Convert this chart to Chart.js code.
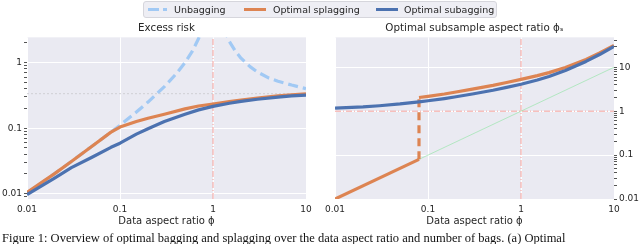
<!DOCTYPE html>
<html>
<head>
<meta charset="utf-8">
<script src="https://cdn.jsdelivr.net/npm/chart.js@4.4.0/dist/chart.umd.min.js"></script>
<style>
    body { margin: 0; width: 640px; height: 244px; overflow: hidden; background: #fff; position: relative;
           font-family: "DejaVu Sans", sans-serif; color: #262626; }
    .panel { position: absolute; top: 0; width: 320px; height: 244px; }
    #legend { position: absolute; left: 143px; top: 1px; width: 352px; height: 15px; border: 1px solid #d6d6dc;
              border-radius: 3px; background: #eeeef4; font-size: 9.5px; line-height: 15px; }
    #legend .item { position: absolute; top: 0; white-space: nowrap; }
    #legend .swatch { position: absolute; top: 6px; height: 3px; width: 20px; }
    #caption { position: absolute; left: 2px; top: 231px; font-family: "Liberation Serif", serif; font-size: 12.5px;
               white-space: nowrap; color: #111; }
</style>
</head>
<body>
<div class="panel" style="left:0"><canvas id="chart_excess-risk" width="320" height="244"></canvas></div>
<div class="panel" style="left:320px"><canvas id="chart_subsample-ratio" width="320" height="244"></canvas></div>
<div id="legend">
    <span class="swatch" style="left:4px;background:linear-gradient(to right,#a1c9f4 0 11px,transparent 11px 15px,#a1c9f4 15px 19px,transparent 19px)"></span>
    <span class="item" style="left:30px">Unbagging</span>
    <span class="swatch" style="left:100px;width:22px;background:#dd8452"></span>
    <span class="item" style="left:129px">Optimal splagging</span>
    <span class="swatch" style="left:232px;width:22px;background:#4c72b0"></span>
    <span class="item" style="left:260px">Optimal subagging</span>
</div>
<div id="caption">Figure 1: Overview of optimal bagging and splagging over the data aspect ratio and number of bags. (a) Optimal</div>
<script>
// data aspect ratio grid (phi) shared by the optimal curves
var phiGrid = [0.01, 0.02, 0.03, 0.05, 0.08, 0.1, 0.15, 0.2, 0.3, 0.5, 0.7, 1, 1.5, 2, 3, 5, 7, 10];

// left panel: excess risk
var unbagPhi = [0.01, 0.02, 0.03, 0.05, 0.08, 0.1, 0.15, 0.2, 0.3, 0.4, 0.5, 0.6, 0.7, 0.8, 1, 1.3, 1.5, 1.75, 2, 2.5, 3, 4, 5, 7, 10];
var unbagRisk = [0.0101, 0.0204, 0.031, 0.053, 0.087, 0.111, 0.176, 0.25, 0.43, 0.67, 1.0, 1.5, 2.33, 4.0, null, 3.4, 2.1, 1.48, 1.17, 0.87, 0.72, 0.58, 0.52, 0.455, 0.40];
var splagRisk = [0.0105, 0.0204, 0.031, 0.053, 0.087, 0.104, 0.126, 0.142, 0.163, 0.197, 0.218, 0.234, 0.255, 0.268, 0.287, 0.31, 0.323, 0.335];
var subagRisk = [0.0097, 0.0175, 0.025, 0.036, 0.051, 0.059, 0.081, 0.098, 0.126, 0.163, 0.19, 0.215, 0.24, 0.256, 0.276, 0.298, 0.31, 0.32];
var nullRisk = 0.336;

// right panel: optimal subsample aspect ratio phi_s
var splagLowPhi = [0.01, 0.08];
var splagLowRatio = [0.01, 0.08];
var splagJumpRatio = [0.08, 2.05];
var splagHighPhi = [0.08, 0.1, 0.15, 0.2, 0.3, 0.5, 0.7, 1, 1.5, 2, 3, 5, 7, 10];
var splagHighRatio = [2.05, 2.18, 2.46, 2.73, 3.17, 3.87, 4.49, 5.3, 6.45, 7.55, 9.9, 15.1, 21.1, 31.5];
var subagRatio = [1.17, 1.25, 1.33, 1.46, 1.63, 1.73, 1.94, 2.13, 2.46, 3.0, 3.48, 4.1, 5.12, 6.19, 8.48, 13.6, 19.5, 29.7];
var identityPhi = [0.01, 10];

var phiRange = [0.01, 10];
var riskRange = [0.0083, 2.43];
var ratioRange = [0.01, 48];

var BLUE = '#4c72b0', ORANGE = '#dd8452', LIGHTBLUE = '#a1c9f4', REF = '#f4a09c', TEXT = '#262626';

var toPoints = function (xs, ys) {
    return xs.map(function (x, i) { return {x: x, y: ys[i]}; });
};

var isDecade = function (v) {
    var l = Math.log10(v);
    return Math.abs(l - Math.round(l)) < 1e-6;
};
var isNiceTick = function (v) {
    var m = v / Math.pow(10, Math.floor(Math.log10(v) + 1e-9));
    return Math.abs(m - Math.round(m)) < 1e-6;
};
var fmt = function (v) {
    return isDecade(v) ? String(parseFloat(v.toPrecision(1))) : '';
};

var plotBackground = {
    id: 'plotBackground',
    beforeDraw: function (chart) {
        var a = chart.chartArea, ctx = chart.ctx;
        ctx.save();
        ctx.fillStyle = '#eaeaf2';
        ctx.fillRect(a.left, a.top, a.right - a.left, a.bottom - a.top);
        ctx.restore();
    }
};

var line = function (data, color, width, dash) {
    return {data: data, borderColor: color, borderWidth: width, borderDash: dash || [],
            pointRadius: 0, fill: false, tension: 0, spanGaps: false,
            borderCapStyle: 'butt', borderJoinStyle: 'round'};
};

var xAxis = function () {
    return {
        type: 'logarithmic', min: phiRange[0], max: phiRange[1],
        border: {display: false},
        grid: {drawTicks: false, lineWidth: 1,
               color: function (c) { return isDecade(c.tick.value) ? '#ffffff' : 'rgba(0,0,0,0)'; }},
        ticks: {autoSkip: false, maxRotation: 0, padding: 5, color: TEXT,
                font: {family: 'DejaVu Sans', size: 9},
                callback: function (v) { return fmt(v); }},
        title: {display: true, text: 'Data aspect ratio \u03d5', color: TEXT, padding: {top: 0, bottom: 2},
                font: {family: 'DejaVu Sans', size: 10}},
        afterFit: function (scale) { scale.height = 30; }
    };
};

var yAxis = function (range, position, width) {
    return {
        type: 'logarithmic', min: range[0], max: range[1], position: position,
        border: {display: false},
        grid: {drawTicks: true, tickLength: 3, lineWidth: 1,
               color: function (c) { return isDecade(c.tick.value) ? '#ffffff' : 'rgba(0,0,0,0)'; },
               tickColor: function (c) { return isNiceTick(c.tick.value) ? '#555555' : 'rgba(0,0,0,0)'; }},
        ticks: {autoSkip: false, padding: 2, color: TEXT,
                font: {family: 'DejaVu Sans', size: 9},
                callback: function (v) { return fmt(v); }},
        afterFit: function (scale) { scale.width = width; }
    };
};

var baseOptions = function (title, padding, yScale) {
    return {
        responsive: false, animation: false, devicePixelRatio: 1,
        layout: {padding: padding},
        plugins: {
            legend: {display: false}, tooltip: {enabled: false},
            title: {display: true, text: title, fullSize: false, color: TEXT,
                    font: {family: 'DejaVu Sans', size: 10.3, weight: 'normal'}, padding: {top: 0, bottom: 3}}
        },
        scales: {x: xAxis(), y: yScale}
    };
};

var showExcessRisk = function () {
    new Chart(document.getElementById('chart_excess-risk'), {
        type: 'line',
        data: {datasets: [
            line(toPoints(phiGrid, subagRisk), BLUE, 3.2),
            line(toPoints(phiGrid, splagRisk), ORANGE, 3.2),
            line(toPoints(unbagPhi, unbagRisk), LIGHTBLUE, 3.2, [10, 5]),
            line(toPoints([1, 1], riskRange), REF, 1, [6, 2, 1, 2]),
            line(toPoints(phiRange, [nullRisk, nullRisk]), '#cfcfd4', 1, [2, 2])
        ]},
        options: baseOptions('Excess risk', {top: 22, right: 14, bottom: 15, left: 0},
                             yAxis(riskRange, 'left', 27)),
        plugins: [plotBackground]
    });
};

var showSubsampleRatio = function () {
    new Chart(document.getElementById('chart_subsample-ratio'), {
        type: 'line',
        data: {datasets: [
            line(toPoints(phiGrid, subagRatio), BLUE, 3.2),
            line(toPoints(splagHighPhi, splagHighRatio), ORANGE, 3.2),
            line(toPoints(splagLowPhi, splagLowRatio), ORANGE, 3.2),
            line(toPoints([splagLowPhi[1], splagLowPhi[1]], splagJumpRatio), ORANGE, 3.2, [8, 5]),
            line(toPoints(identityPhi, identityPhi), 'rgba(141,229,161,0.6)', 1),
            line(toPoints([1, 1], ratioRange), REF, 1, [6, 2, 1, 2]),
            line(toPoints(phiRange, [1, 1]), REF, 1, [6, 2, 1, 2])
        ]},
        options: baseOptions('Optimal subsample aspect ratio \u03d5\u209b', {top: 22, right: 0, bottom: 15, left: 15},
                             yAxis(ratioRange, 'right', 26)),
        plugins: [plotBackground]
    });
};

showExcessRisk();
showSubsampleRatio();
</script>
</body>
</html>
